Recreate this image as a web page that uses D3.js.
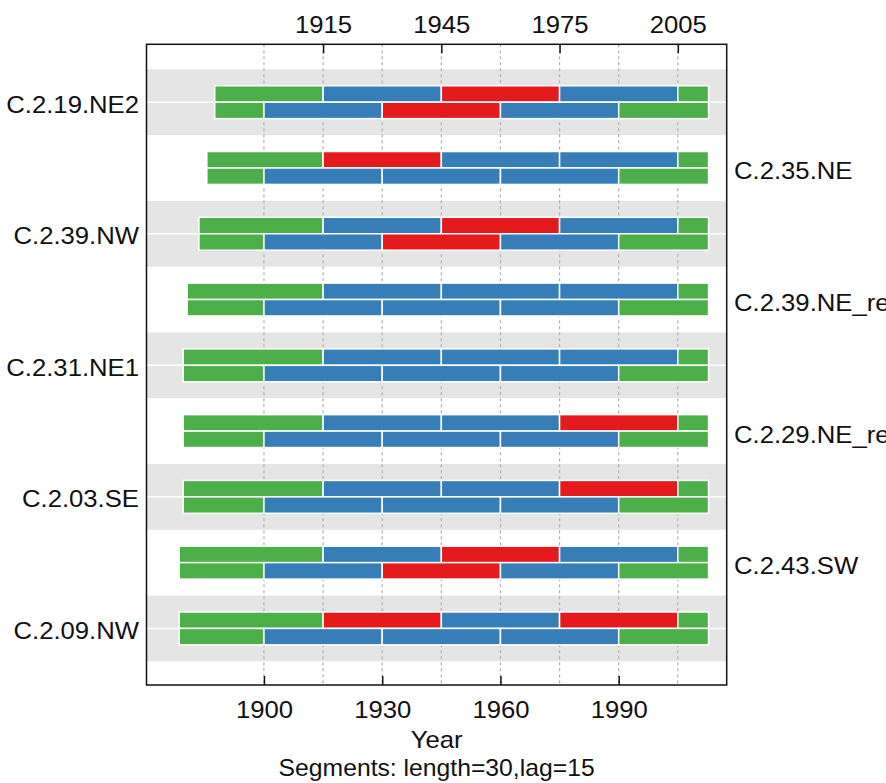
<!DOCTYPE html>
<html>
<head>
<meta charset="utf-8">
<script src="https://cdn.jsdelivr.net/npm/d3@7"></script>
<style>
  html, body { margin: 0; padding: 0; background: #fff; }
  svg { display: block; }
  text { font-family: "Liberation Sans", Arial, sans-serif; fill: #111; }
</style>
</head>
<body>
<svg id="chart" width="886" height="783"></svg>
<script>
// ---------------- data ----------------
const series = ["C.2.19.NE2", "C.2.35.NE", "C.2.39.NW", "C.2.39.NE_re", "C.2.31.NE1",
                "C.2.29.NE_re", "C.2.03.SE", "C.2.43.SW", "C.2.09.NW"];
const firstYear = [1888, 1886, 1884, 1881, 1880, 1880, 1880, 1879, 1879];
const lastYear  = [2012, 2012, 2012, 2012, 2012, 2012, 2012, 2012, 2012];
const segLength = 30;
const segLag = 15;
const topBins = [1915, 1945, 1975];      // upper row of segments
const bottomBins = [1900, 1930, 1960];   // lower row of segments
// 1 = flagged segment (red), 0 = fine (blue)
const topFlags = [[0,1,0],[1,0,0],[0,1,0],[0,0,0],[0,0,0],[0,0,1],[0,0,1],[0,1,0],[1,0,1]];
const bottomFlags = [[0,1,0],[0,0,0],[0,1,0],[0,0,0],[0,0,0],[0,0,0],[0,0,0],[0,1,0],[0,0,0]];
const bottomTicks = [1900, 1930, 1960, 1990];
const topTicks = [1915, 1945, 1975, 2005];
const gridYears = [1900, 1915, 1930, 1945, 1960, 1975, 1990, 2005];
const xLabel = "Year";
const subLabel = "Segments: length=30,lag=15";

// ---------------- layout ----------------
const colOK = "#377EB8", colFlag = "#E41A1C", colOut = "#4DAF4A";
const box = {left: 146.5, right: 726.7, top: 44.3, bottom: 685};
const x = d3.scaleLinear().domain([1870.2, 2017.4]).range([box.left, box.right]);
const y = d3.scaleLinear().domain([0.12, 9.86]).range([box.top, box.bottom]);
const svg = d3.select("#chart");
const fs = 24;
const sx = 1.07; // horizontal text stretch seen in the reference

// bands
const rows = series.map((s, i) => ({name: s, i: i + 1, first: firstYear[i], last: lastYear[i],
  tf: topFlags[i], bf: bottomFlags[i]}));
svg.append("g").selectAll("rect").data(rows.filter(r => r.i % 2 === 1)).join("rect")
  .attr("x", box.left).attr("width", box.right - box.left)
  .attr("y", d => y(d.i - 0.5)).attr("height", d => y(d.i + 0.5) - y(d.i - 0.5))
  .attr("fill", "#E5E5E5");

// grid
svg.append("g").selectAll("line").data(gridYears).join("line")
  .attr("x1", d => x(d)).attr("x2", d => x(d))
  .attr("y1", box.top).attr("y2", box.bottom)
  .attr("stroke", "#B0B0B0").attr("stroke-width", 1.2).attr("stroke-dasharray", "3,3");

// center white lines
svg.append("g").selectAll("line").data(rows).join("line")
  .attr("x1", box.left).attr("x2", box.right)
  .attr("y1", d => y(d.i)).attr("y2", d => y(d.i))
  .attr("stroke", "#fff").attr("stroke-width", 1.5);

// segments
function segs(r) {
  const out = [];
  const s0 = r.first - 0.5, s1 = r.last + 0.8;
  out.push({x0: s0, x1: topBins[0], y0: r.i - 0.25, y1: r.i, c: colOut});
  topBins.forEach((b, k) => out.push({x0: b, x1: b + segLength, y0: r.i - 0.25, y1: r.i, c: r.tf[k] ? colFlag : colOK}));
  out.push({x0: topBins[2] + segLength, x1: s1, y0: r.i - 0.25, y1: r.i, c: colOut});
  out.push({x0: s0, x1: bottomBins[0], y0: r.i, y1: r.i + 0.25, c: colOut});
  bottomBins.forEach((b, k) => out.push({x0: b, x1: b + segLength, y0: r.i, y1: r.i + 0.25, c: r.bf[k] ? colFlag : colOK}));
  out.push({x0: bottomBins[2] + segLength, x1: s1, y0: r.i, y1: r.i + 0.25, c: colOut});
  return out;
}
svg.append("g").selectAll("rect").data(rows.flatMap(segs)).join("rect")
  .attr("x", d => x(d.x0)).attr("width", d => x(d.x1) - x(d.x0))
  .attr("y", d => y(d.y0)).attr("height", d => y(d.y1) - y(d.y0))
  .attr("fill", d => d.c).attr("stroke", "#fff").attr("stroke-width", 1.5);

// box
svg.append("rect").attr("x", box.left).attr("y", box.top)
  .attr("width", box.right - box.left).attr("height", box.bottom - box.top)
  .attr("fill", "none").attr("stroke", "#111").attr("stroke-width", 1.5);

// axes (ticks point inward)
const axB = d3.axisBottom(x).tickValues(bottomTicks).tickFormat(d3.format("d")).tickSizeInner(-9).tickSizeOuter(0).tickPadding(20);
const gB = svg.append("g").attr("transform", `translate(0,${box.bottom})`).call(axB);
const axT = d3.axisTop(x).tickValues(topTicks).tickFormat(d3.format("d")).tickSizeInner(-9).tickSizeOuter(0).tickPadding(20);
const gT = svg.append("g").attr("transform", `translate(0,${box.top})`).call(axT);
[gB, gT].forEach(g => {
  g.select(".domain").remove();
  g.selectAll(".tick line").attr("stroke", "#111").attr("stroke-width", 1.5);
  g.selectAll(".tick text").attr("font-size", fs).attr("fill", "#111")
    .attr("font-family", '"Liberation Sans", Arial, sans-serif')
    .attr("transform", `scale(${sx},1)`);
});
gB.selectAll(".tick text").attr("dy", null).attr("y", 33);
gT.selectAll(".tick text").attr("dy", null).attr("y", -11);

// series labels (right-hand ones run off the page edge, as in the reference)
svg.append("g").selectAll("text").data(rows).join("text")
  .attr("transform", d => `translate(${d.i % 2 === 1 ? 139 : 734},${y(d.i) + (d.i % 2 === 1 ? 10.5 : 11.5)}) scale(${sx},1)`)
  .attr("text-anchor", d => d.i % 2 === 1 ? "end" : "start")
  .attr("font-size", fs)
  .text(d => d.name);

// axis titles
const cx = (box.left + box.right) / 2;
svg.append("text").attr("transform", `translate(${cx},748) scale(${sx},1)`).attr("text-anchor", "middle").attr("font-size", fs).text(xLabel);
svg.append("text").attr("transform", `translate(${cx},776) scale(1.03,1)`).attr("text-anchor", "middle").attr("font-size", fs).text(subLabel);
</script>
</body>
</html>
